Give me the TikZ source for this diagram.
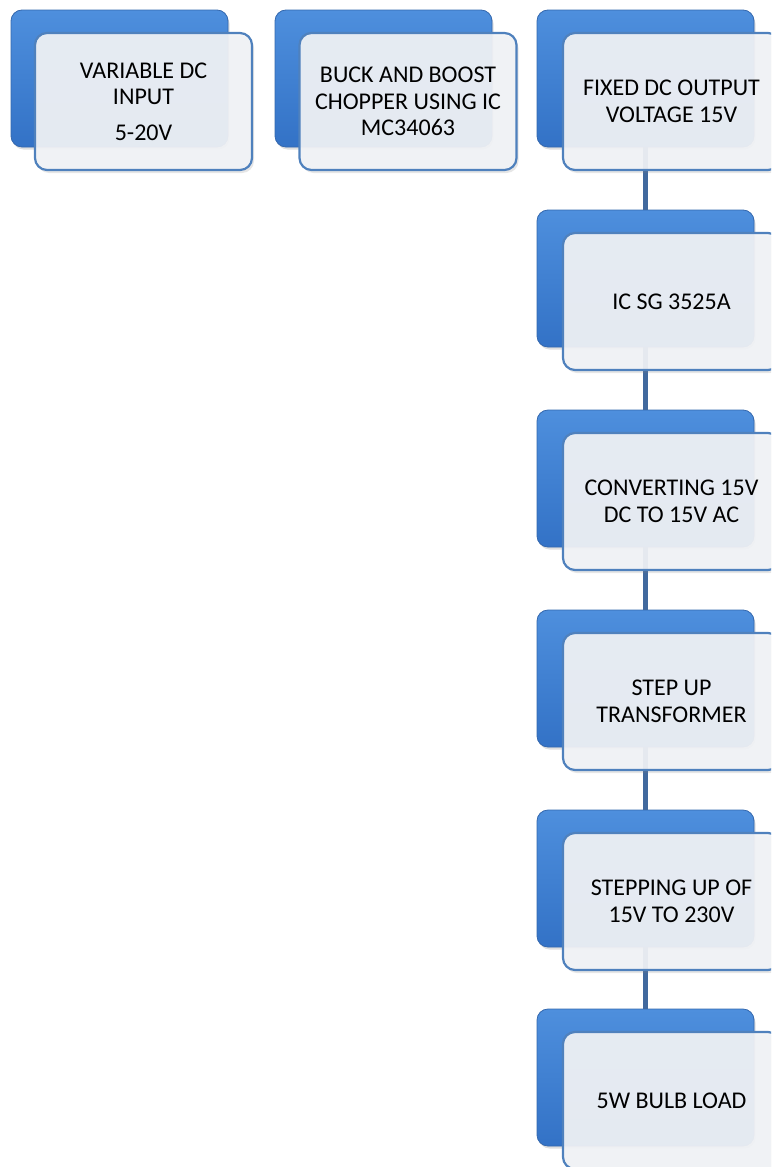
\documentclass[tikz,border=0pt]{standalone}
\usepackage{fontspec}
\setmainfont{Carlito}
\usetikzlibrary{shadows}
\definecolor{bluetop}{HTML}{4E8FDD}
\definecolor{bluemid}{HTML}{3D7ED2}
\definecolor{bluebot}{HTML}{3372C6}
\definecolor{blueedge}{HTML}{3468AE}
\definecolor{paper}{HTML}{F1F3F6}
\definecolor{frame}{HTML}{4F81BD}
\definecolor{link}{HTML}{41699E}
\tikzset{
  bluebox/.style={rectangle, rounded corners=11pt, minimum width=217pt, minimum height=137pt,
    top color=bluetop, middle color=bluemid, bottom color=bluebot, draw=blueedge, line width=0.8pt,
    drop shadow={shadow xshift=1.5pt, shadow yshift=-2.5pt, opacity=0.25}},
  whitebox/.style={rectangle, rounded corners=12pt, minimum width=217pt, minimum height=137pt,
    fill=paper, fill opacity=0.93, text opacity=1, draw=frame, line width=2.2pt,
    drop shadow={shadow xshift=2pt, shadow yshift=-3pt, opacity=0.2},
    align=center, font=\fontsize{24}{26.5}\selectfont, text=black},
  linkline/.style={draw=link, line width=5pt}
}
\begin{document}
\begin{tikzpicture}[x=1pt,y=-1pt]
\useasboundingbox (0,0) rectangle (771,1167);
\clip (0,0) rectangle (771,1167);
% blue back boxes
\node[bluebox] (b1) at (119.5,78.5) {};
\node[bluebox] (b2) at (383.5,78.5) {};
\node[bluebox] (b3) at (645.5,78.5) {};
\node[bluebox] (b4) at (645.5,278.5) {};
\node[bluebox] (b5) at (645.5,478.5) {};
\node[bluebox] (b6) at (645.5,678.5) {};
\node[bluebox] (b7) at (645.5,878.5) {};
\node[bluebox] (b8) at (645.5,1077.5) {};
% connectors
\draw[linkline] (b3.south) -- (b4.north);
\draw[linkline] (b4.south) -- (b5.north);
\draw[linkline] (b5.south) -- (b6.north);
\draw[linkline] (b6.south) -- (b7.north);
\draw[linkline] (b7.south) -- (b8.north);
% front boxes
\node[whitebox] (w1) at (143.5,101.5) {VARIABLE DC\\INPUT\\[9pt]5-20V};
\node[whitebox] (w2) at (408,101.5) {BUCK AND BOOST\\CHOPPER USING IC\\MC34063};
\node[whitebox] (w3) at (671.5,101.5) {FIXED DC OUTPUT\\VOLTAGE 15V};
\node[whitebox] (w4) at (671.5,301.5) {IC SG 3525A};
\node[whitebox] (w5) at (671.5,501.5) {CONVERTING 15V\\DC TO 15V AC};
\node[whitebox] (w6) at (671.5,701.5) {STEP UP\\TRANSFORMER};
\node[whitebox] (w7) at (671.5,901.5) {STEPPING UP OF\\15V TO 230V};
\node[whitebox] (w8) at (671.5,1100.5) {5W BULB LOAD};
\end{tikzpicture}
\end{document}
